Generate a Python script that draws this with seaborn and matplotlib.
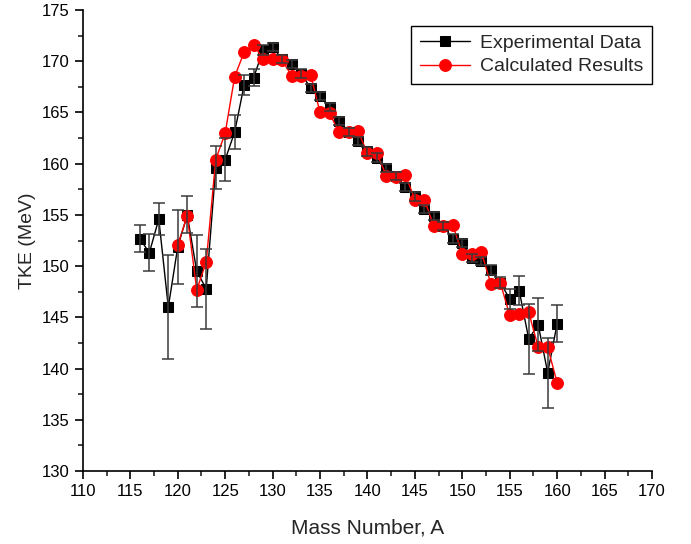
import numpy as np
import pandas as pd
import matplotlib
matplotlib.use('Agg')
import matplotlib.pyplot as plt
from matplotlib.ticker import MultipleLocator
import seaborn as sns

sns.set_style('ticks')
plt.rcParams['font.family'] = ['Liberation Sans', 'DejaVu Sans']

# experimental data (mass number, TKE, error)
exp_mass = list(range(116, 161))
exp_tke = [152.7, 151.3, 154.6, 146.0, 151.9, 155.0, 149.5, 147.8, 159.6, 160.4,
           163.1, 167.7, 168.4, 171.1, 171.4, 170.2, 169.7, 168.8, 167.4, 166.6,
           165.5, 164.2, 163.1, 162.2, 161.2, 160.6, 159.6, 158.8, 157.7, 156.8,
           155.6, 154.9, 153.9, 152.7, 152.3, 150.8, 150.5, 149.6, 148.4, 146.8,
           147.6, 142.9, 144.3, 139.6, 144.4]
exp_err = [1.3, 1.8, 1.6, 5.1, 3.6, 1.8, 3.5, 3.9, 2.1, 2.1,
           1.7, 1.0, 0.8, 0.5, 0.4, 0.4, 0.4, 0.4, 0.4, 0.4,
           0.4, 0.4, 0.4, 0.4, 0.4, 0.4, 0.4, 0.4, 0.4, 0.4,
           0.4, 0.4, 0.4, 0.4, 0.4, 0.4, 0.4, 0.5, 0.5, 1.0,
           1.4, 3.4, 2.6, 3.4, 1.8]

# calculated results
calc_mass = list(range(120, 161))
calc_tke = [152.1, 154.9, 147.7, 150.4, 160.4, 163.0, 168.5, 170.9, 171.6, 170.2,
            170.2, 170.1, 168.6, 168.6, 168.7, 165.0, 164.9, 163.1, 163.1, 163.2,
            161.0, 161.0, 158.8, 158.7, 158.9, 156.5, 156.5, 153.9, 153.9, 154.0,
            151.2, 151.2, 151.4, 148.3, 148.4, 145.2, 145.3, 145.5, 142.1, 142.1,
            138.6]

expDF = pd.DataFrame({'A': exp_mass, 'TKE': exp_tke, 'err': exp_err})
calcDF = pd.DataFrame({'A': calc_mass, 'TKE': calc_tke})

fig = plt.figure(figsize=(6.91, 5.44), dpi=100)
ax = fig.add_axes([0.120, 0.134, 0.8236, 0.8476])

sns.lineplot(data=expDF, x='A', y='TKE', color='black', marker='s', markersize=7,
             markeredgecolor='black', linewidth=1, label='Experimental Data', ax=ax, zorder=2)
sns.lineplot(data=calcDF, x='A', y='TKE', color='red', marker='o', markersize=8.5,
             markeredgecolor='red', linewidth=1, label='Calculated Results', ax=ax, zorder=3)
ax.errorbar(expDF['A'], expDF['TKE'], yerr=expDF['err'], fmt='none', ecolor='#3a3a3a',
            elinewidth=1.1, capsize=4.5, capthick=1.1, zorder=4)

ax.set_xlim(110, 170)
ax.set_ylim(130, 175)
ax.xaxis.set_major_locator(MultipleLocator(5))
ax.xaxis.set_minor_locator(MultipleLocator(2.5))
ax.yaxis.set_major_locator(MultipleLocator(5))
ax.yaxis.set_minor_locator(MultipleLocator(2.5))
ax.tick_params(which='major', direction='out', length=6, width=1.2, labelsize=12, colors='black')
ax.tick_params(which='minor', direction='out', length=3.5, width=1.2)
for s in ['top', 'right']:
    ax.spines[s].set_visible(False)
for s in ['left', 'bottom']:
    ax.spines[s].set_linewidth(1.2)
    ax.spines[s].set_color('black')

ax.set_xlabel('Mass Number, A', fontsize=15, labelpad=14)
ax.set_ylabel('TKE (MeV)', fontsize=14, labelpad=4)

leg = ax.legend(loc='upper right', bbox_to_anchor=(1.0, 0.966), borderaxespad=0,
                fontsize=14, handlelength=2.6, fancybox=False, framealpha=1,
                edgecolor='black', borderpad=0.45, labelspacing=0.3, handletextpad=0.5)
leg.get_frame().set_linewidth(1)

fig.savefig('out.png', dpi=100)
